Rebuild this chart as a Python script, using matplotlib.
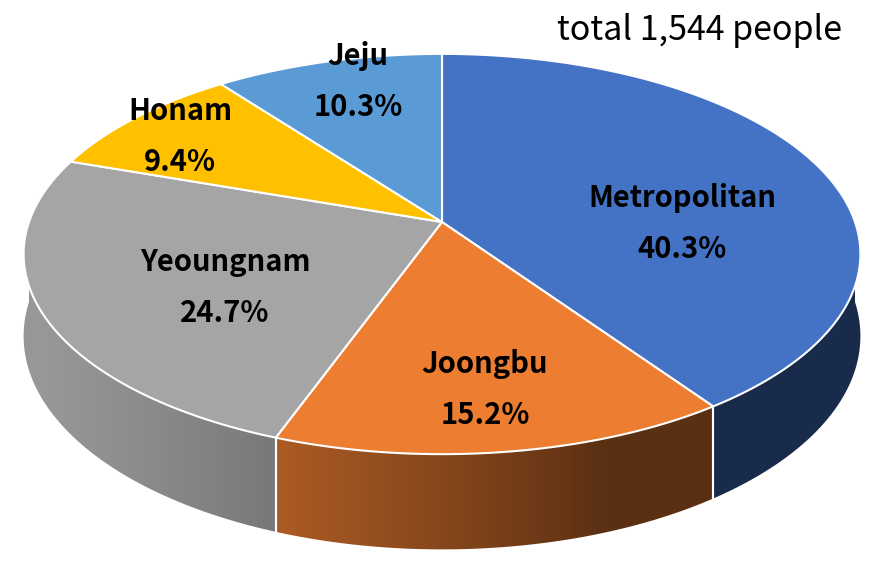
import numpy as np
import matplotlib.pyplot as plt
from matplotlib.patches import Polygon
from matplotlib.colors import to_rgb

# data
regions = ['Metropolitan', 'Joongbu', 'Yeoungnam', 'Honam', 'Jeju']
shares = [40.3, 15.2, 24.7, 9.4, 10.3]
colors = ['#4472C4', '#ED7D31', '#A5A5A5', '#FFC000', '#5B9BD5']
total_text = 'total 1,544 people'

# label anchors (pixel coords, baseline of name line)
label_pos = [(682, 207), (485, 373), (225, 271), (180, 120), (358, 65)]
line_gap = 51

# projection of the tilted disc (pixel coords)
CX, CY = 442, 222
A, B, D, P = 413, 195, 80, 0.16

FONT = ['Noto Sans CJK KR', 'DejaVu Sans']


def proj(t_deg, z=0.0):
    t = np.radians(t_deg)
    u, v = np.cos(t), np.sin(t)
    den = 1 + P * v
    return CX + A * u / den, CY + (-B * v + D * z) / den


def shade(t_deg):
    # light coming from front-left
    c = np.cos(np.radians(t_deg - 200))
    return 0.38 + 0.54 * np.clip(c, 0, None)


fig = plt.figure(figsize=(8.79, 5.62), dpi=100)
ax = fig.add_axes([0, 0, 1, 1])

frac = np.array(shares) / sum(shares)
ends = 90 - 360 * np.cumsum(frac)
starts = np.concatenate([[90], ends[:-1]])

# side walls (only the front half is visible), shaded with a clipped gradient
for i in range(len(regions)):
    hi = min(starts[i], 0)
    lo = max(ends[i], -180)
    if hi <= lo:
        continue
    ts = np.linspace(hi, lo, 300)
    xt, yt = proj(ts)
    xb, yb = proj(ts[::-1], 1)
    wall = Polygon(list(zip(xt, yt)) + list(zip(xb, yb)), closed=True,
                   fc='none', ec='none')
    ax.add_patch(wall)
    # colour per pixel column, via the angle at that column
    x0, x1 = xt.min() - 2, xt.max() + 2
    cols = np.linspace(x0, x1, 400)
    order = np.argsort(xt)
    t_at = np.interp(cols, xt[order], ts[order])
    base = np.array(to_rgb(colors[i]))
    img = shade(360 + t_at)[:, None] * base[None, :]
    img = np.clip(img[None, :, :], 0, 1)
    y0, y1 = min(yt.min(), yb.min()) - 2, max(yt.max(), yb.max()) + 2
    im = ax.imshow(img, extent=(x0, x1, y1, y0), aspect='auto',
                   interpolation='bilinear', zorder=1)
    im.set_clip_path(wall)
    # white seams between slices on the wall
    for t in (starts[i], ends[i]):
        if -180 < t < 0:
            xs0, ys0 = proj(t)
            xs1, ys1 = proj(t, 1)
            ax.plot([xs0, xs1], [ys0, ys1], color='white', lw=1.5, zorder=2)

ax.set_xlim(0, 879)
ax.set_ylim(562, 0)
ax.axis('off')

# top faces
for i in range(len(regions)):
    ts = np.linspace(starts[i], ends[i], 200)
    xs, ys = proj(ts)
    pts = [(CX, CY)] + list(zip(xs, ys))
    ax.add_patch(Polygon(pts, closed=True, fc=colors[i], ec='white', lw=1.5,
                         joinstyle='round', zorder=3))

# labels
for name, s, (x, y) in zip(regions, shares, label_pos):
    ax.text(x, y, name, ha='center', va='baseline', fontsize=21,
            fontweight='bold', family=FONT, color='black', zorder=5)
    ax.text(x, y + line_gap, f'{s:.1f}%', ha='center', va='baseline',
            fontsize=21, fontweight='bold', family=FONT, color='black',
            zorder=5)

ax.text(700, 40, total_text, ha='center', va='baseline', fontsize=24.5,
        family=FONT, color='black', zorder=5)

fig.savefig('out.png', dpi=100)
